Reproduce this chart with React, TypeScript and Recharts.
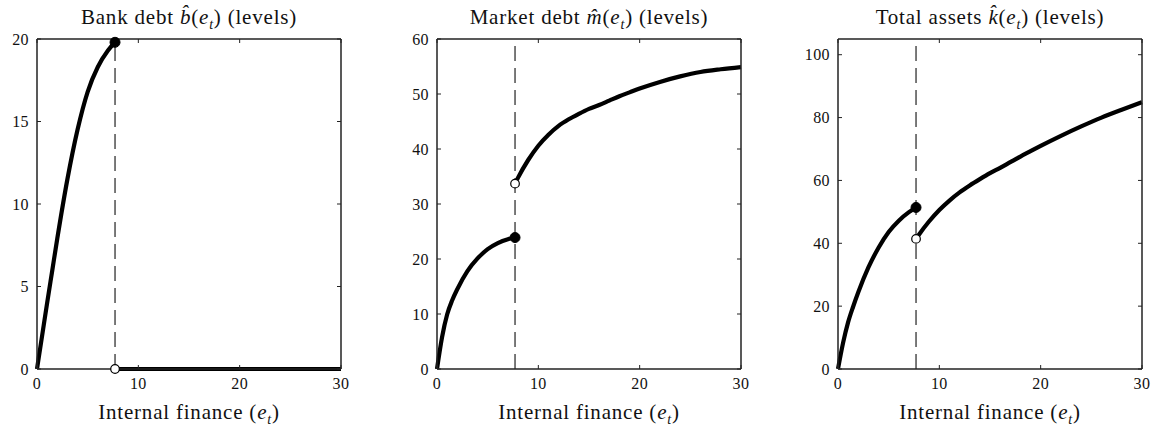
import React from 'react';
import { LineChart, Line, XAxis, YAxis, ReferenceLine, ReferenceDot } from 'recharts';

// internal finance grid, below and above the switching point
const cutoff = 7.7;
const eLow = [0, 0.5, 1, 1.5, 2, 3, 4, 5, 6, 7, 7.7];
const eHigh = [7.7, 8, 9, 10, 11, 12, 13, 14, 15, 16, 17, 18, 19, 20, 22, 24, 26, 28, 30];
const xTicks = [0, 10, 20, 30];

// bank debt b(e)
const bankLow = [0, 2.0, 4.0, 5.95, 7.9, 11.5, 14.5, 16.8, 18.3, 19.3, 19.8];
const bankHigh = [0, 0, 0, 0, 0, 0, 0, 0, 0, 0, 0, 0, 0, 0, 0, 0, 0, 0, 0];
const bankTicks = [0, 5, 10, 15, 20];

// market debt m(e)
const marketLow = [0, 5.8, 9.9, 12.5, 14.5, 17.8, 20.1, 21.8, 22.9, 23.6, 23.9];
const marketHigh = [33.7, 34.8, 38.0, 40.6, 42.6, 44.2, 45.4, 46.4, 47.3, 48.0, 48.8, 49.6, 50.3, 51.0, 52.2, 53.2, 54.0, 54.5, 54.9];
const marketTicks = [0, 10, 20, 30, 40, 50, 60];

// total assets k(e)
const assetsLow = [0, 8.3, 14.9, 19.9, 24.4, 32.3, 38.6, 43.6, 47.2, 49.9, 51.4];
const assetsHigh = [41.4, 42.8, 47.0, 50.6, 53.6, 56.2, 58.4, 60.4, 62.3, 64.0, 65.8, 67.6, 69.3, 71.0, 74.2, 77.2, 80.0, 82.5, 84.9];
const assetsTicks = [0, 20, 40, 60, 80, 100];

const FONT = '"Liberation Serif", serif';
const PLOT_W = 304;
const PLOT_TOP = 39;
const PLOT_BOTTOM = 369;
const H = 426;
const IN_LEFT = 45; // plot left edge inside each chart
const axisColor = '#222';

const toRows = (xs: number[], ys: number[]) => xs.map((e, i) => ({ e, v: ys[i] }));

// tick label plus inward tick marks on both sides of the box
const YTick = (props: any) => {
  const { x, y, payload } = props;
  return (
    <g>
      <text x={x} y={y} dy="0.36em" textAnchor="end" fill="#111" fontSize={16} fontFamily={FONT} letterSpacing={0.4}>{payload.value}</text>
      <line x1={IN_LEFT} x2={IN_LEFT + 4} y1={y} y2={y} stroke={axisColor} strokeWidth={1} />
      <line x1={IN_LEFT + PLOT_W - 4} x2={IN_LEFT + PLOT_W} y1={y} y2={y} stroke={axisColor} strokeWidth={1} />
    </g>
  );
};

const XTick = (props: any) => {
  const { x, y, payload } = props;
  return (
    <g>
      <text x={x} y={y} dy="0.71em" textAnchor="middle" fill="#111" fontSize={16} fontFamily={FONT} letterSpacing={0.4}>{payload.value}</text>
      <line x1={x} x2={x} y1={PLOT_BOTTOM - 4} y2={PLOT_BOTTOM} stroke={axisColor} strokeWidth={1} />
      <line x1={x} x2={x} y1={PLOT_TOP} y2={PLOT_TOP + 4} stroke={axisColor} strokeWidth={1} />
    </g>
  );
};

interface PanelProps {
  left: number;
  title: React.ReactNode;
  yMax: number;
  yTicks: number[];
  low: number[];
  high: number[];
}

const textBox = { position: 'absolute' as const, width: PLOT_W, textAlign: 'center' as const, fontFamily: FONT, fontSize: 21, letterSpacing: 0.8, lineHeight: '24px', color: '#111', whiteSpace: 'nowrap' as const };
const sub = { fontSize: 14, lineHeight: 0 };

function Panel({ left, title, yMax, yTicks, low, high }: PanelProps) {
  const lowRows = toRows(eLow, low);
  const highRows = toRows(eHigh, high);
  const lineAx = { stroke: axisColor, strokeWidth: 1.5 };
  return (
    <>
      <div style={{ ...textBox, left, top: 5 }}>{title}</div>
      <div style={{ position: 'absolute', left: left - IN_LEFT, top: 0 }}>
        <LineChart width={PLOT_W + IN_LEFT + 10} height={H} margin={{ top: PLOT_TOP, right: 10, left: 5, bottom: 0 }}>
          <XAxis xAxisId="b" dataKey="e" type="number" domain={[0, 30]} ticks={xTicks} tickSize={0} tickLine={false} axisLine={lineAx} tick={<XTick />} tickMargin={9} height={H - PLOT_BOTTOM} />
          <XAxis xAxisId="t" orientation="top" mirror type="number" domain={[0, 30]} allowDataOverflow tick={false} tickLine={false} axisLine={lineAx} />
          <YAxis yAxisId="l" type="number" domain={[0, yMax]} ticks={yTicks} tickSize={0} tickLine={false} axisLine={lineAx} tick={<YTick />} tickMargin={8} width={40} />
          <YAxis yAxisId="r" orientation="right" mirror type="number" domain={[0, yMax]} allowDataOverflow tick={false} tickLine={false} axisLine={lineAx} />
          <ReferenceLine xAxisId="b" yAxisId="l" x={cutoff} stroke="#333" strokeWidth={1.3} strokeDasharray="15 7" />
          <Line xAxisId="b" yAxisId="l" data={lowRows} dataKey="v" type="monotone" stroke="#000" strokeWidth={4.2} dot={false} activeDot={false} isAnimationActive={false} />
          <Line xAxisId="b" yAxisId="l" data={highRows} dataKey="v" type="monotone" stroke="#000" strokeWidth={4.2} dot={false} activeDot={false} isAnimationActive={false} />
          <ReferenceDot xAxisId="b" yAxisId="l" x={eLow[eLow.length - 1]} y={low[low.length - 1]} r={5} fill="#000" stroke="#000" />
          <ReferenceDot xAxisId="b" yAxisId="l" x={eHigh[0]} y={high[0]} r={4.3} fill="#fff" stroke="#000" strokeWidth={1.2} />
        </LineChart>
      </div>
      <div style={{ ...textBox, left, top: 400 }}>
        Internal finance (<i>e</i><sub style={sub}><i>t</i></sub>)
      </div>
    </>
  );
}

export default function App() {
  return (
    <div style={{ position: 'absolute', left: 0, top: 0, width: 1160, height: H, background: '#fff' }}>
      <Panel left={37} yMax={20} yTicks={bankTicks} low={bankLow} high={bankHigh}
        title={<>Bank debt <i>b&#770;</i>(<i>e</i><sub style={sub}><i>t</i></sub>) (levels)</>} />
      <Panel left={437} yMax={60} yTicks={marketTicks} low={marketLow} high={marketHigh}
        title={<>Market debt <i>m&#770;</i>(<i>e</i><sub style={sub}><i>t</i></sub>) (levels)</>} />
      <Panel left={838} yMax={105} yTicks={assetsTicks} low={assetsLow} high={assetsHigh}
        title={<>Total assets <i>k&#770;</i>(<i>e</i><sub style={sub}><i>t</i></sub>) (levels)</>} />
    </div>
  );
}
